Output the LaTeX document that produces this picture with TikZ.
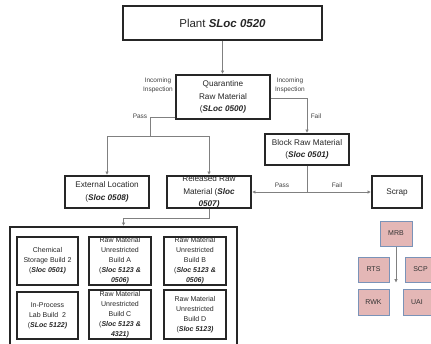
\documentclass[tikz,border=0pt]{standalone}
\usepackage{fontspec}
\setmainfont{Liberation Sans}
\usetikzlibrary{arrows.meta}
\definecolor{pinkc}{HTML}{E4B7B6}
\definecolor{pinkb}{HTML}{7A93B8}
\newcommand{\bis}[1]{\textbf{\textit{#1}}}
\begin{document}
\begin{tikzpicture}[x=1pt,y=-1pt,
 box/.style={draw=black!85, line width=1.3pt, rectangle, inner sep=0pt},
 conn/.style={draw=black!50, line width=0.9pt},
 arr/.style={conn,-{Latex[length=3.5pt,width=3.5pt]}, shorten >=0.3pt},
 lbl/.style={font=\fontsize{6.5}{9}\selectfont, text=black!75, inner sep=0pt, align=center},
 txt/.style={font=\fontsize{8.2}{12.5}\selectfont, text=black!85, align=center, inner sep=0pt},
 stxt/.style={font=\fontsize{7}{10}\selectfont, text=black!85, align=center, inner sep=0pt},
 pinkbox/.style={draw=pinkb, fill=pinkc, line width=1pt, rectangle, inner sep=0pt, text=black!80, font=\fontsize{7}{8}\selectfont}
]
\useasboundingbox (0,0) rectangle (431,343);

% top row
\node[box, minimum width=199, minimum height=34, font=\fontsize{11.5}{13}\selectfont, text=black!85] (plant) at (222.5,23) {Plant \bis{SLoc 0520}};
\node[box, minimum width=94, minimum height=44] (quar) at (223,97) {};
\node[txt] at (quar) {Quarantine\\Raw Material\\(\bis{SLoc 0500)}};

\node[box, minimum width=84, minimum height=31] (block) at (307,149.5) {};
\node[txt] at (block) {Block Raw Material\\(\bis{Sloc 0501)}};

\node[box, minimum width=84, minimum height=32] (ext) at (107,192) {};
\node[txt] at (ext) {External Location\\(\bis{Sloc 0508)}};

\node[txt] (reltxt) at (209,192) {Released Raw\\Material (\bis{Sloc}\\\bis{0507)}};
\node[box, minimum width=84, minimum height=32] (rel) at (209,192) {};

\node[box, minimum width=50, minimum height=32, font=\fontsize{8.2}{10}\selectfont, text=black!85] (scrap) at (397,192) {Scrap};

% big container
\node[box, minimum width=227, minimum height=130] (big) at (123.5,292) {};

% inner boxes row 1
\node[box, minimum width=61, minimum height=48] (c1) at (47.5,261) {};
\node[stxt] at (c1) {Chemical\\Storage Build 2\\(\bis{Sloc 0501)}};
\node[stxt] at (120,261) {Raw Material\\Unrestricted\\Build A\\(\bis{Sloc 5123 \&}\\\bis{0506)}};
\node[box, minimum width=62, minimum height=48] (c2) at (120,261) {};
\node[stxt] at (195,261) {Raw Material\\Unrestricted\\Build B\\(\bis{Sloc 5123 \&}\\\bis{0506)}};
\node[box, minimum width=62, minimum height=48] (c3) at (195,261) {};

% inner boxes row 2
\node[box, minimum width=61, minimum height=47] (d1) at (47.5,315.5) {};
\node[stxt] at (d1) {In-Process\\Lab Build\ \ 2\\(\bis{SLoc 5122)}};
\node[stxt] at (120,314.5) {Raw Material\\Unrestricted\\Build C\\(\bis{Sloc 5123 \&}\\\bis{4321)}};
\node[box, minimum width=62, minimum height=49] (d2) at (120,314.5) {};
\node[box, minimum width=62, minimum height=49] (d3) at (195,314.5) {};
\node[stxt] at (d3) {Raw Material\\Unrestricted\\Build D\\(\bis{Sloc 5123)}};

% pink boxes
\node[pinkbox, minimum width=32, minimum height=25] (mrb) at (396,233.5) {MRB};
\node[pinkbox, minimum width=31, minimum height=25] (rts) at (373.5,269.5) {RTS};
\node[pinkbox, minimum width=31, minimum height=25] (scp) at (420.5,269.5) {SCP};
\node[pinkbox, minimum width=31, minimum height=26] (rwk) at (373.5,302) {RWK};
\node[pinkbox, minimum width=28, minimum height=26] (uai) at (417,302) {UAI};
\coordinate (mrbend) at (396,283);
\draw[arr] (mrb.south) -- (mrbend);

% connectors
\draw[arr] (plant.south) -- (plant.south |- quar.north);

\coordinate (pL) at (150,136);
\draw[conn] (quar.west |- 0,117) -| (pL);
\draw[conn] (ext.north |- pL) -- (rel.north |- pL);
\draw[arr] (ext.north |- pL) -- (ext.north);
\draw[arr] (rel.north |- pL) -- (rel.north);

\draw[arr] (quar.east |- 0,98) -| (block.north);

\coordinate (bj) at (307,192);
\draw[conn] (block.south) -- (bj);
\draw[arr] (bj) -- (rel.east);
\draw[arr] (bj) -- (scrap.west);

\draw[arr] (rel.south) |- (big.north |- 0,218) -- (big.north);

% labels
\node[lbl] (l1) at (158,85) {Incoming\\Inspection};
\node[lbl] (l2) at (290,85) {Incoming\\Inspection};
\node[lbl] (l3) at (140,116) {Pass};
\node[lbl] (l4) at (316,116) {Fail};
\node[lbl] (l5) at (282,185) {Pass};
\node[lbl] (l6) at (337,185) {Fail};
\end{tikzpicture}
\end{document}
